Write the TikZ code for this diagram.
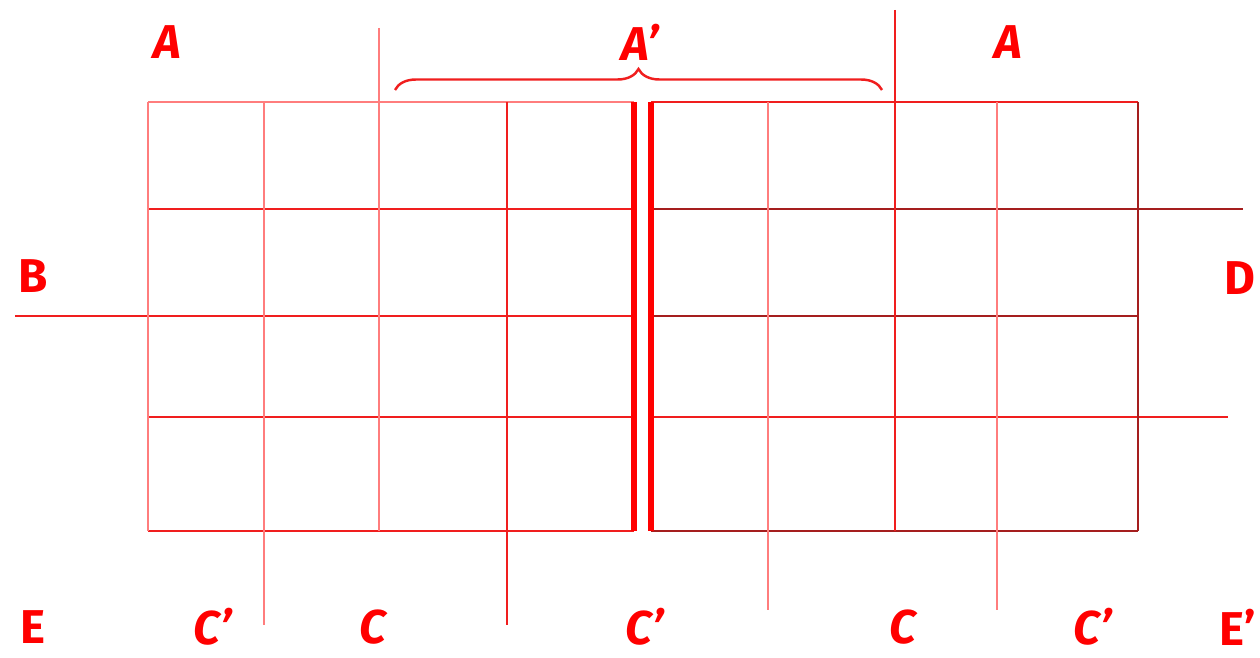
\documentclass[tikz,border=0pt]{standalone}
\usepackage{fontspec}
\setmainfont{Fira Sans}
\usetikzlibrary{decorations.pathreplacing}

\definecolor{lightred}{RGB}{255,125,125}
\definecolor{midred}{RGB}{240,30,30}
\definecolor{darkred}{RGB}{165,30,30}

\begin{document}
\begin{tikzpicture}[x=0.02cm, y=-0.02cm,
    thin line/.style={line width=1.4pt},
    thick line/.style={line width=3pt, red},
    lbl/.style={text=red, font=\fontsize{27}{30}\selectfont\bfseries},
    slant lbl/.style={lbl, font=\fontsize{27}{30}\selectfont\bfseries\itshape}]
    \useasboundingbox (0,0) rectangle (1260,658);

    % left grid
    \draw[thin line, lightred] (148,102) -- (634,102);
    \draw[thin line, midred] (148,209) -- (634,209);
    \draw[thin line, midred] (15,316) -- (634,316);
    \draw[thin line, midred] (148,417) -- (634,417);
    \draw[thin line, midred] (148,531) -- (634,531);
    \draw[thin line, lightred] (148,102) -- (148,531);
    \draw[thin line, lightred] (264,102) -- (264,625);
    \draw[thin line, lightred] (379,28) -- (379,531);
    \draw[thin line, midred] (507,102) -- (507,625);
    \draw[thick line] (634,102) -- (634,531);

    % right grid
    \draw[thin line, midred] (651,102) -- (1138,102);
    \draw[thin line, darkred] (651,209) -- (1243,209);
    \draw[thin line, darkred] (651,316) -- (1138,316);
    \draw[thin line, midred] (651,417) -- (1228,417);
    \draw[thin line, darkred] (651,531) -- (1138,531);
    \draw[thin line, lightred] (768,102) -- (768,610);
    \draw[thin line, midred] (895,10) -- (895,531);
    \draw[thin line, lightred] (997,102) -- (997,610);
    \draw[thin line, darkred] (1138,102) -- (1138,531);
    \draw[thick line] (651,102) -- (651,531);

    % brace over the middle
    \draw[thin line, midred, decorate, decoration={brace, amplitude=0.42cm}]
        (395,90) -- (882,90);

    % labels
    \node[slant lbl] (atopl) at (167,42) {A};
    \node[slant lbl] (aprime) at (640,42) {A'};
    \node[slant lbl] (atopr) at (1008,42) {A};
    \node[lbl] (bleft) at (33,276) {B};
    \node[lbl] (dright) at (1240,278) {D};
    \node[lbl] (eleft) at (33,627) {E};
    \node[slant lbl] (cpone) at (213,627) {C'};
    \node[slant lbl] (cone) at (373,627) {C};
    \node[slant lbl] (cptwo) at (645,627) {C'};
    \node[slant lbl] (ctwo) at (903,627) {C};
    \node[slant lbl] (cpthree) at (1093,627) {C'};
    \node[lbl] (eprime) at (1238,627) {E'};
\end{tikzpicture}
\end{document}
